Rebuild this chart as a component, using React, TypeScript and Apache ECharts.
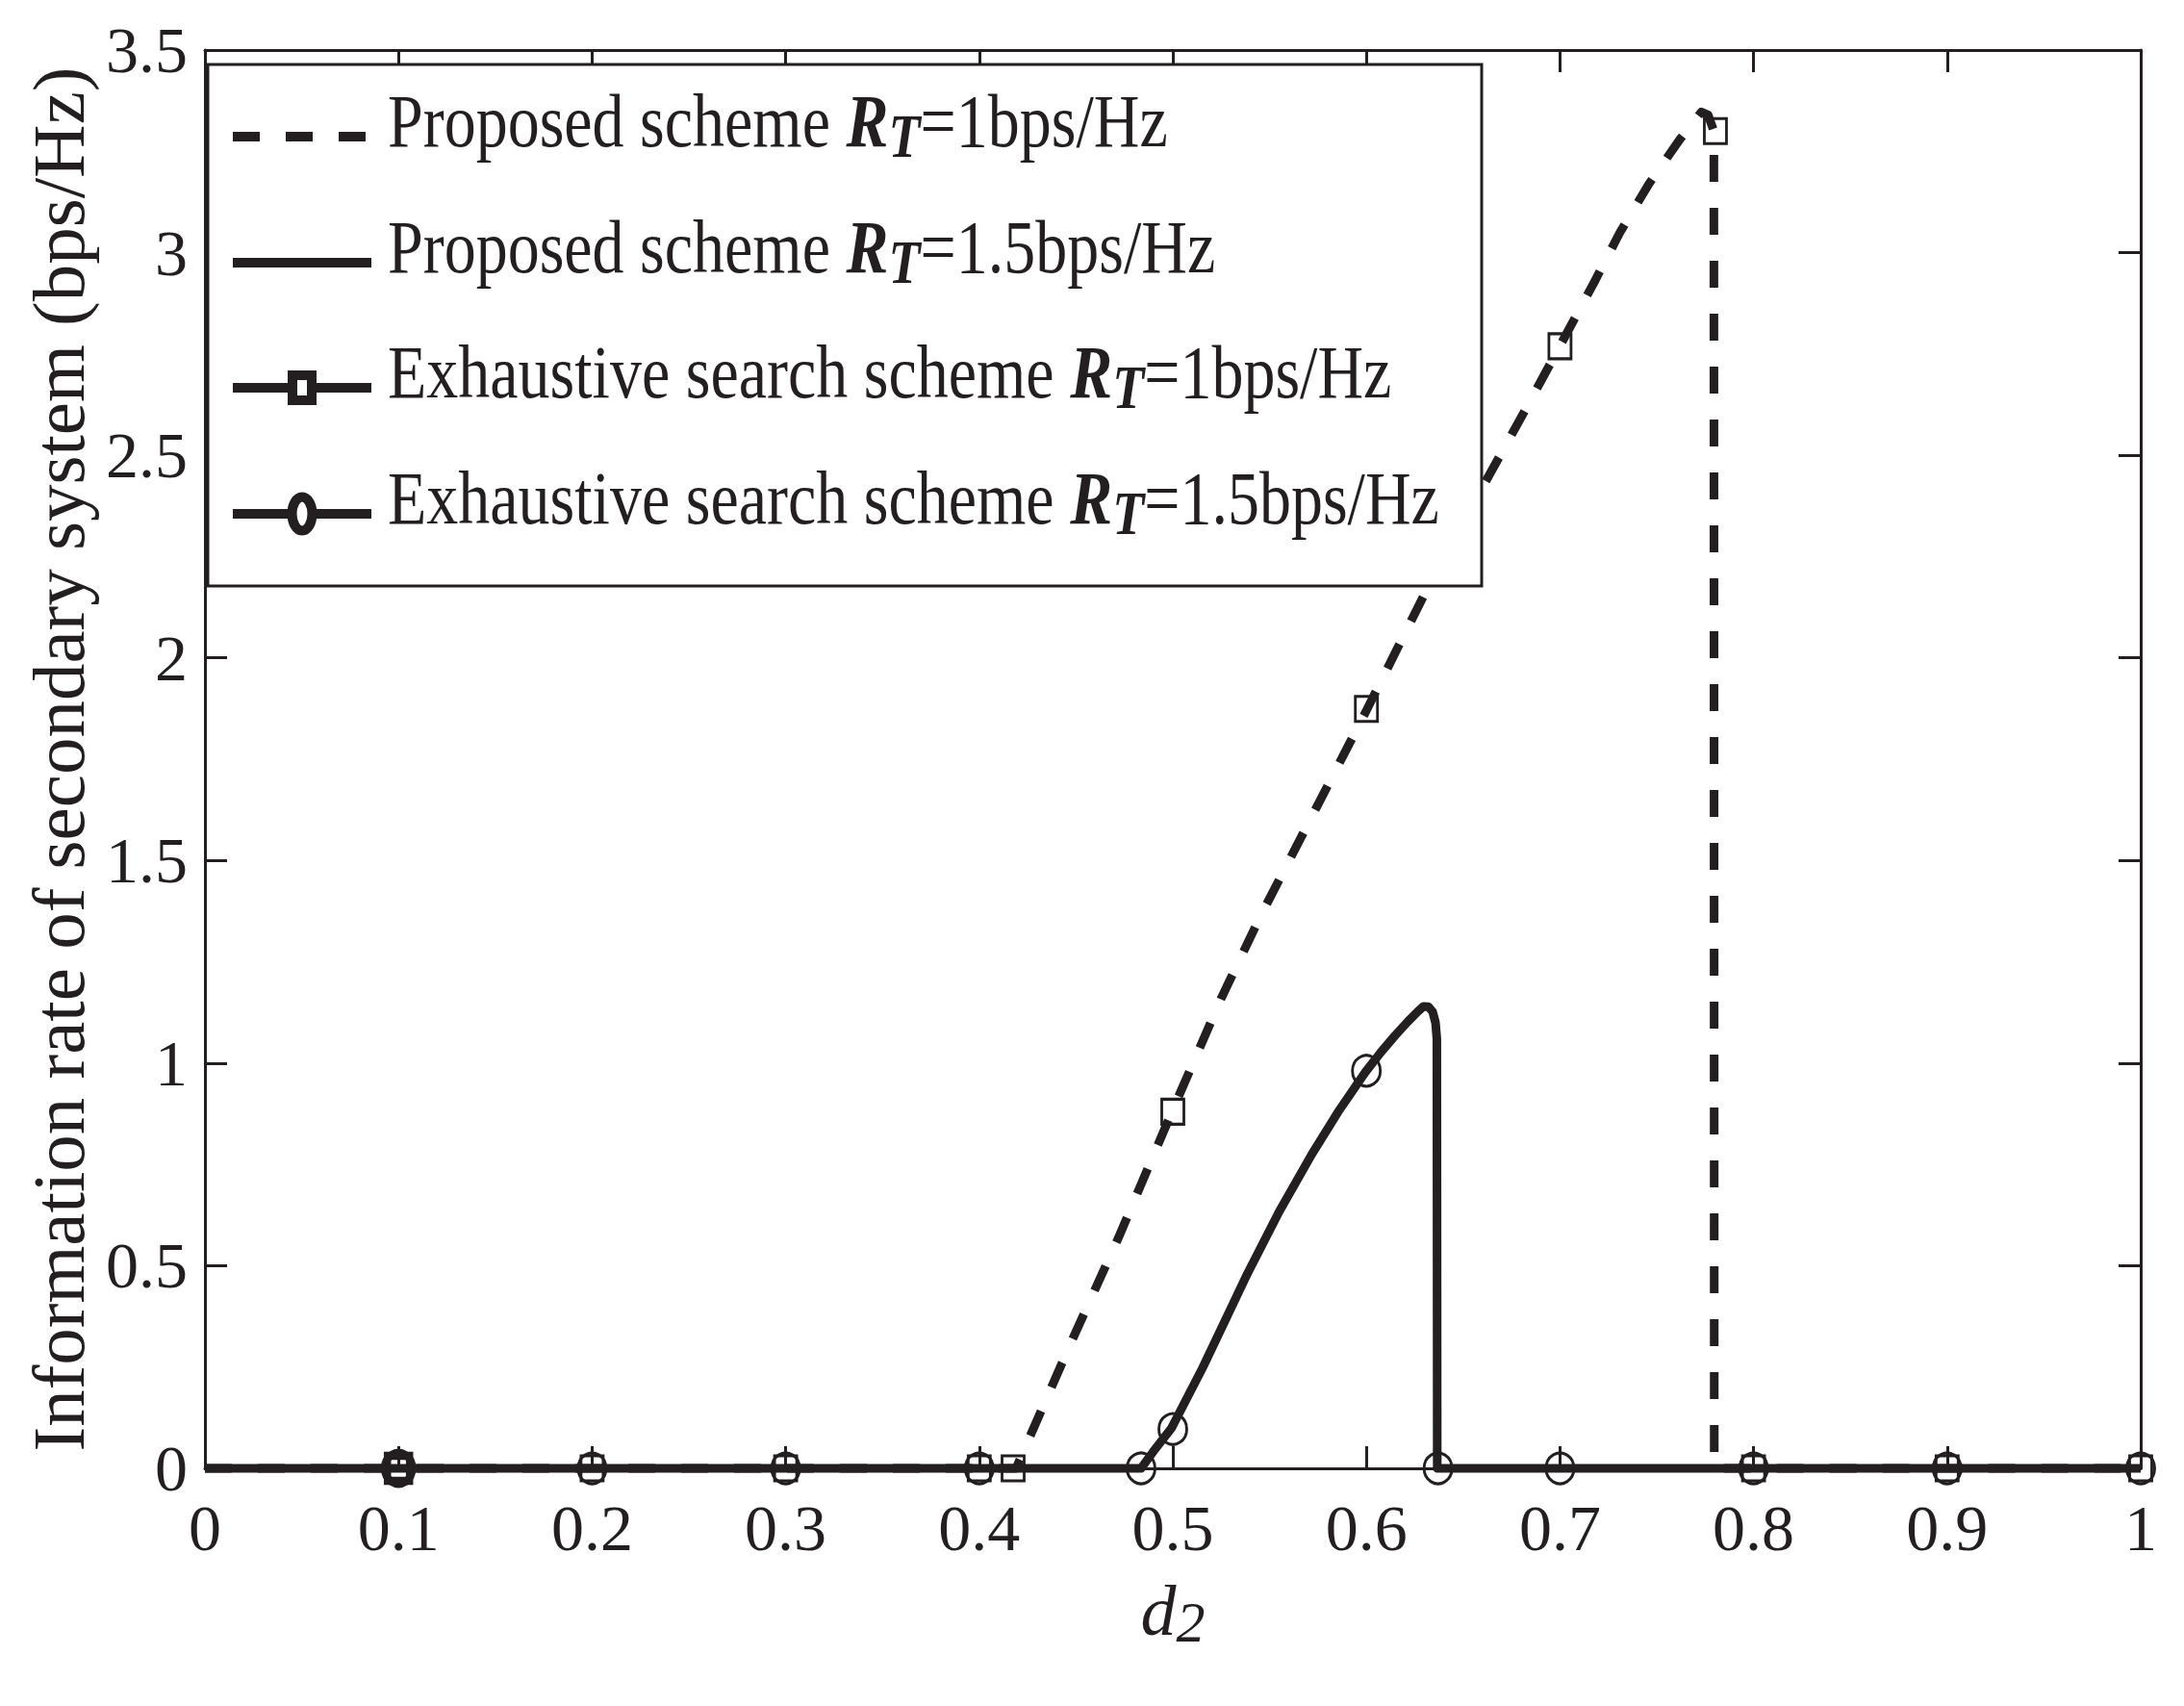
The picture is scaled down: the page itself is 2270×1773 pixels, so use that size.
import React, { useEffect, useRef } from 'react';
import * as echarts from 'echarts';

const INK = '#231f20';
const FONT = '"Liberation Serif", "Times New Roman", Times, serif';

// ---- data ----
const xTickMin = 0;
const xTickMax = 1;
const xTickStep = 0.1;
const yTickMin = 0;
const yTickMax = 3.5;
const yTickStep = 0.5;

const proposedRT1: [number, number][] = [
  [0, 0], [0.419, 0], [0.447, 0.306], [0.472, 0.57], [0.5, 0.885], [0.525, 1.16],
  [0.545, 1.36], [0.6, 1.87], [0.631, 2.167], [0.661, 2.43], [0.683, 2.62],
  [0.7, 2.77], [0.718, 2.93], [0.731, 3.05], [0.746, 3.17], [0.762, 3.28],
  [0.773, 3.347], [0.7765, 3.34], [0.7795, 3.3], [0.7797, 0], [1, 0],
];

const proposedRT15: [number, number][] = [
  [0, 0], [0.4836, 0], [0.49, 0.042], [0.4994, 0.1], [0.5154, 0.248],
  [0.5386, 0.481], [0.555, 0.634], [0.5718, 0.775], [0.586, 0.884],
  [0.5995, 0.978], [0.6075, 1.027], [0.6148, 1.068], [0.6215, 1.103],
  [0.6265, 1.127], [0.6295, 1.14], [0.632, 1.139], [0.6342, 1.127],
  [0.6357, 1.1], [0.6364, 1.06], [0.6366, 0], [1, 0],
];

const exhaustiveRT1: [number, number][] = [
  [0.1, 0], [0.2, 0], [0.3, 0], [0.4, 0], [0.4175, 0], [0.5, 0.88],
  [0.6, 1.874], [0.7, 2.769], [0.7803, 3.3], [0.8, 0], [0.9, 0], [1, 0],
];

const exhaustiveRT15: [number, number][] = [
  [0.1, 0], [0.2, 0], [0.3, 0], [0.4, 0], [0.4836, 0], [0.5, 0.097],
  [0.6, 0.981], [0.637, 0], [0.7, 0], [0.8, 0], [0.9, 0], [1, 0],
];

const legendPrefixes = [
  'Proposed scheme ',
  'Proposed scheme ',
  'Exhaustive search scheme ',
  'Exhaustive search scheme ',
];
const legendRates = ['=1bps/Hz', '=1.5bps/Hz', '=1bps/Hz', '=1.5bps/Hz'];
const seriesNames = legendPrefixes.map((p, i) => p + 'R_T' + legendRates[i]);

const yAxisName = 'Information rate of secondary system (bps/Hz)';

// ---- layout ----
const GRID = { left: 213, top: 52, width: 2012, height: 1474 };
const LEG = { x: 216, y: 67, w: 1324, h: 542, rows: [142, 273, 403, 534], lineX0: 242, lineX1: 386, markX: 314, textX: 403 };
const STRETCH = 1.18;

const legendRich = {
  a: { fontFamily: FONT, fontSize: 66, lineHeight: 80, fill: INK, color: INK },
  r: { fontFamily: FONT, fontSize: 66, lineHeight: 80, fontStyle: 'italic', fontWeight: 'bold', fill: INK, color: INK },
  t: { fontFamily: FONT, fontSize: 54, lineHeight: 26, fontStyle: 'italic', fontWeight: 'bold', verticalAlign: 'bottom', fill: INK, color: INK },
};

function buildLegend() {
  const els: any[] = [];
  els.push({
    type: 'rect',
    z: 100,
    shape: { x: LEG.x, y: LEG.y, width: LEG.w, height: LEG.h },
    style: { fill: '#fff', stroke: INK, lineWidth: 3 },
  });
  LEG.rows.forEach((ry, i) => {
    els.push({
      type: 'line',
      z: 101,
      shape: { x1: LEG.lineX0, y1: ry, x2: LEG.lineX1, y2: ry },
      style: { stroke: INK, lineWidth: 10, lineDash: i === 0 ? [28, 27] : null, lineCap: 'butt' },
    });
    if (i === 2) {
      els.push({
        type: 'rect',
        z: 102,
        shape: { x: LEG.markX - 10, y: ry - 13, width: 20, height: 26 },
        style: { fill: '#fff', stroke: INK, lineWidth: 10 },
      });
    }
    if (i === 3) {
      els.push({
        type: 'ellipse',
        z: 102,
        shape: { cx: LEG.markX, cy: ry, rx: 10.5, ry: 17.5 },
        style: { fill: '#fff', stroke: INK, lineWidth: 10 },
      });
    }
    els.push({
      type: 'text',
      z: 103,
      x: LEG.textX,
      y: ry - 16,
      scaleY: STRETCH,
      style: {
        text: '{a|' + legendPrefixes[i] + '}{r|R}{t|T}{a|' + legendRates[i] + '}',
        rich: legendRich,
        fontFamily: FONT,
        fontSize: 66,
        fill: INK,
        align: 'left',
        verticalAlign: 'middle',
        textAlign: 'left',
        textVerticalAlign: 'middle',
      },
    });
  });
  return els;
}

function buildOption(): any {
  const tickStyle = { show: true, inside: true, length: 23, lineStyle: { color: INK, width: 3 } };
  const lineAxis = { show: true, onZero: false, lineStyle: { color: INK, width: 3 } };
  const labelStyle = { color: INK, fontFamily: FONT, fontSize: 68 };
  const boldItem = (p: [number, number], idx: number) =>
    idx === 0 ? { value: p, itemStyle: { borderWidth: 8 } } : { value: p };
  return {
    animation: false,
    backgroundColor: '#fff',
    grid: { ...GRID, containLabel: false },
    xAxis: [
      {
        type: 'value',
        min: xTickMin,
        max: xTickMax,
        interval: xTickStep,
        position: 'bottom',
        axisLine: lineAxis,
        axisTick: tickStyle,
        splitLine: { show: false },
        axisLabel: { ...labelStyle, margin: 28 },
        name: '{d|d}{s|2}',
        nameLocation: 'middle',
        nameGap: 106,
        nameTextStyle: {
          rich: {
            d: { fontFamily: FONT, fontSize: 74, fontStyle: 'italic', lineHeight: 84, color: INK },
            s: { fontFamily: FONT, fontSize: 60, fontStyle: 'italic', lineHeight: 26, verticalAlign: 'bottom', color: INK },
          },
        },
      },
      {
        type: 'value',
        min: xTickMin,
        max: xTickMax,
        interval: xTickStep,
        position: 'top',
        axisLine: lineAxis,
        axisTick: tickStyle,
        splitLine: { show: false },
        axisLabel: { show: false },
      },
    ],
    yAxis: [
      {
        type: 'value',
        min: yTickMin,
        max: yTickMax,
        interval: yTickStep,
        position: 'left',
        axisLine: lineAxis,
        axisTick: tickStyle,
        splitLine: { show: false },
        axisLabel: { ...labelStyle, margin: 18 },
        name: yAxisName,
        nameLocation: 'middle',
        nameGap: 112,
        nameTextStyle: { color: INK, fontFamily: FONT, fontSize: 77 },
      },
      {
        type: 'value',
        min: yTickMin,
        max: yTickMax,
        interval: yTickStep,
        position: 'right',
        axisLine: lineAxis,
        axisTick: tickStyle,
        splitLine: { show: false },
        axisLabel: { show: false },
      },
    ],
    series: [
      {
        name: seriesNames[0],
        type: 'line',
        data: proposedRT1,
        showSymbol: false,
        symbol: 'none',
        clip: false,
        z: 2,
        lineStyle: { color: INK, width: 9, type: [28, 27], cap: 'butt', join: 'round' },
      },
      {
        name: seriesNames[1],
        type: 'line',
        data: proposedRT15,
        showSymbol: false,
        symbol: 'none',
        clip: false,
        z: 3,
        lineStyle: { color: INK, width: 9, type: 'solid', cap: 'butt', join: 'round' },
      },
      {
        name: seriesNames[2],
        type: 'scatter',
        data: exhaustiveRT1.map(boldItem),
        symbol: 'rect',
        symbolSize: [23, 26],
        clip: false,
        z: 4,
        itemStyle: { color: 'transparent', borderColor: INK, borderWidth: 3, opacity: 1 },
      },
      {
        name: seriesNames[3],
        type: 'scatter',
        data: exhaustiveRT15.map(boldItem),
        symbol: 'circle',
        symbolSize: [29, 32],
        clip: false,
        z: 4,
        itemStyle: { color: 'transparent', borderColor: INK, borderWidth: 3, opacity: 1 },
      },
    ],
    graphic: { elements: buildLegend() },
  };
}

export default function App() {
  const ref = useRef<HTMLDivElement>(null);
  useEffect(() => {
    document.body.style.margin = '0';
    if (!ref.current) return;
    const chart = echarts.init(ref.current, null, { renderer: 'svg' });
    chart.setOption(buildOption());
    return () => chart.dispose();
  }, []);
  return <div ref={ref} style={{ width: 2270, height: 1773, background: '#fff' }} />;
}
